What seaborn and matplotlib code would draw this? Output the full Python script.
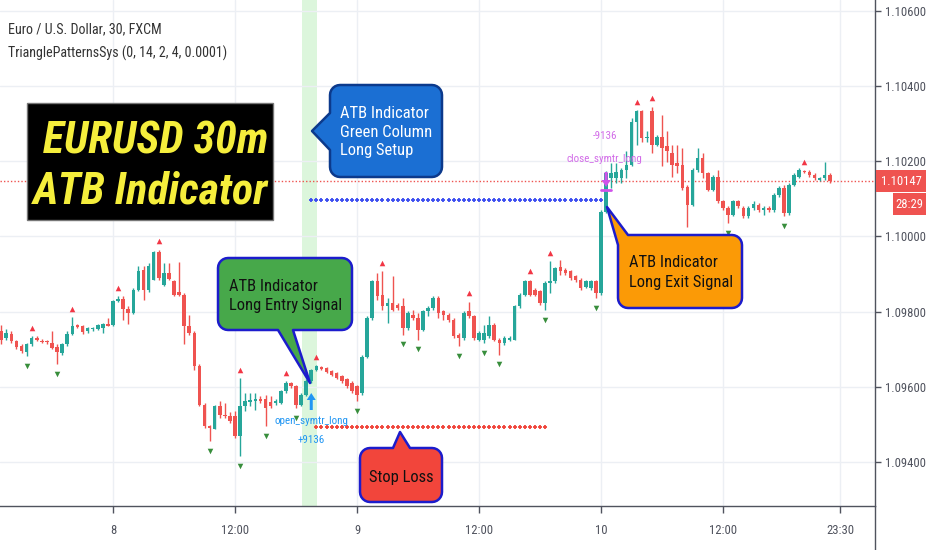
import numpy as np
import pandas as pd
import seaborn as sns
import matplotlib.pyplot as plt
from matplotlib import font_manager as fm
from matplotlib.patches import Polygon, Rectangle, FancyArrow
from matplotlib.transforms import IdentityTransform

# EURUSD 30m bars, bar index counted from 8 Jan 00:00
bars = list(range(-22, 142))
open_ = [1.09748, 1.09730, 1.09742, 1.09722, 1.09708, 1.09692, 1.09713, 1.09730, 1.09723, 1.09722,
         1.09717, 1.09706, 1.09691, 1.09713, 1.09742, 1.09764, 1.09763, 1.09748, 1.09753, 1.09754,
         1.09757, 1.09768, 1.09766, 1.09828, 1.09834, 1.09808, 1.09797, 1.09857, 1.09910, 1.09859,
         1.09885, 1.09958, 1.09872, 1.09903, 1.09881, 1.09852, 1.09845, 1.09761, 1.09744, 1.09655,
         1.09553, 1.09496, 1.09489, 1.09549, 1.09527, 1.09522, 1.09522, 1.09469, 1.09549, 1.09560,
         1.09562, 1.09568, 1.09567, 1.09560, 1.09558, 1.09558, 1.09589, 1.09611, 1.09602, 1.09553,
         1.09580, 1.09615, 1.09644, 1.09653, 1.09650, 1.09642, 1.09637, 1.09628, 1.09620, 1.09611,
         1.09602, 1.09584, 1.09681, 1.09783, 1.09881, 1.09845, 1.09814, 1.09823, 1.09819, 1.09814,
         1.09757, 1.09792, 1.09783, 1.09752, 1.09801, 1.09810, 1.09836, 1.09801, 1.09792, 1.09779,
         1.09739, 1.09730, 1.09801, 1.09788, 1.09726, 1.09726, 1.09735, 1.09765, 1.09726, 1.09717,
         1.09726, 1.09726, 1.09814, 1.09845, 1.09881, 1.09858, 1.09854, 1.09823, 1.09876, 1.09881,
         1.09920, 1.09911, 1.09907, 1.09894, 1.09885, 1.09867, 1.09863, 1.09881, 1.09850, 1.10066,
         1.10155, 1.10155, 1.10155, 1.10177, 1.10190, 1.10305, 1.10332, 1.10261, 1.10332, 1.10243,
         1.10265, 1.10239, 1.10221, 1.10195, 1.10190, 1.10132, 1.10084, 1.10177, 1.10208, 1.10168,
         1.10124, 1.10159, 1.10093, 1.10075, 1.10057, 1.10093, 1.10075, 1.10053, 1.10075, 1.10084,
         1.10071, 1.10075, 1.10071, 1.10111, 1.10128, 1.10062, 1.10137, 1.10159, 1.10174, 1.10172,
         1.10164, 1.10150, 1.10155, 1.10164]
high = [1.09766, 1.09753, 1.09748, 1.09726, 1.09713, 1.09717, 1.09736, 1.09735, 1.09728, 1.09726,
        1.09748, 1.09713, 1.09717, 1.09748, 1.09786, 1.09768, 1.09766, 1.09760, 1.09760, 1.09768,
        1.09770, 1.09783, 1.09830, 1.09841, 1.09841, 1.09814, 1.09863, 1.09921, 1.09921, 1.09929,
        1.09960, 1.09965, 1.09929, 1.09929, 1.09885, 1.09931, 1.09850, 1.09792, 1.09748, 1.09660,
        1.09558, 1.09500, 1.09553, 1.09562, 1.09558, 1.09533, 1.09536, 1.09624, 1.09584, 1.09584,
        1.09584, 1.09576, 1.09580, 1.09576, 1.09567, 1.09593, 1.09615, 1.09613, 1.09606, 1.09584,
        1.09622, 1.09648, 1.09659, 1.09657, 1.09653, 1.09644, 1.09639, 1.09632, 1.09624, 1.09615,
        1.09606, 1.09686, 1.09788, 1.09885, 1.09903, 1.09907, 1.09836, 1.09894, 1.09823, 1.09836,
        1.09801, 1.09805, 1.09797, 1.09805, 1.09814, 1.09841, 1.09841, 1.09805, 1.09797, 1.09783,
        1.09743, 1.09801, 1.09827, 1.09792, 1.09748, 1.09765, 1.09788, 1.09770, 1.09730, 1.09735,
        1.09735, 1.09819, 1.09850, 1.09885, 1.09885, 1.09863, 1.09858, 1.09881, 1.09934, 1.09920,
        1.09938, 1.09915, 1.09911, 1.09898, 1.09889, 1.09885, 1.09885, 1.09885, 1.10071, 1.10174,
        1.10195, 1.10195, 1.10181, 1.10226, 1.10314, 1.10336, 1.10336, 1.10279, 1.10345, 1.10270,
        1.10323, 1.10279, 1.10243, 1.10243, 1.10234, 1.10137, 1.10181, 1.10234, 1.10221, 1.10172,
        1.10164, 1.10177, 1.10097, 1.10080, 1.10097, 1.10097, 1.10080, 1.10080, 1.10093, 1.10088,
        1.10080, 1.10080, 1.10115, 1.10133, 1.10137, 1.10142, 1.10168, 1.10181, 1.10177, 1.10177,
        1.10168, 1.10159, 1.10199, 1.10168]
low = [1.09713, 1.09726, 1.09717, 1.09701, 1.09691, 1.09683, 1.09708, 1.09722, 1.09717, 1.09715,
       1.09701, 1.09660, 1.09686, 1.09708, 1.09739, 1.09757, 1.09742, 1.09744, 1.09750, 1.09751,
       1.09744, 1.09761, 1.09763, 1.09825, 1.09779, 1.09768, 1.09795, 1.09854, 1.09832, 1.09852,
       1.09883, 1.09885, 1.09868, 1.09883, 1.09843, 1.09841, 1.09713, 1.09739, 1.09646, 1.09549,
       1.09491, 1.09456, 1.09489, 1.09518, 1.09518, 1.09505, 1.09465, 1.09416, 1.09536, 1.09549,
       1.09540, 1.09558, 1.09496, 1.09545, 1.09553, 1.09556, 1.09584, 1.09598, 1.09545, 1.09549,
       1.09576, 1.09611, 1.09642, 1.09644, 1.09637, 1.09628, 1.09622, 1.09611, 1.09597, 1.09584,
       1.09562, 1.09580, 1.09677, 1.09779, 1.09832, 1.09805, 1.09770, 1.09801, 1.09805, 1.09739,
       1.09752, 1.09779, 1.09726, 1.09748, 1.09788, 1.09805, 1.09783, 1.09779, 1.09774, 1.09730,
       1.09708, 1.09726, 1.09783, 1.09726, 1.09721, 1.09717, 1.09730, 1.09721, 1.09686, 1.09712,
       1.09721, 1.09724, 1.09810, 1.09841, 1.09841, 1.09841, 1.09819, 1.09805, 1.09850, 1.09876,
       1.09898, 1.09898, 1.09885, 1.09880, 1.09858, 1.09863, 1.09858, 1.09836, 1.09845, 1.10062,
       1.10128, 1.10142, 1.10142, 1.10155, 1.10186, 1.10243, 1.10252, 1.10252, 1.10221, 1.10239,
       1.10186, 1.10199, 1.10159, 1.10168, 1.10124, 1.10026, 1.10080, 1.10172, 1.10155, 1.10120,
       1.10120, 1.10088, 1.10071, 1.10035, 1.10053, 1.10075, 1.10049, 1.10049, 1.10071, 1.10066,
       1.10057, 1.10066, 1.10066, 1.10106, 1.10053, 1.10057, 1.10133, 1.10155, 1.10168, 1.10159,
       1.10150, 1.10146, 1.10150, 1.10142]
close = [1.09726, 1.09744, 1.09722, 1.09706, 1.09695, 1.09713, 1.09730, 1.09726, 1.09720, 1.09719,
         1.09704, 1.09692, 1.09713, 1.09742, 1.09763, 1.09760, 1.09745, 1.09756, 1.09757, 1.09766,
         1.09768, 1.09763, 1.09828, 1.09835, 1.09806, 1.09797, 1.09857, 1.09907, 1.09859, 1.09921,
         1.09958, 1.09890, 1.09903, 1.09887, 1.09845, 1.09845, 1.09761, 1.09744, 1.09655, 1.09553,
         1.09496, 1.09490, 1.09549, 1.09527, 1.09522, 1.09509, 1.09469, 1.09549, 1.09562, 1.09565,
         1.09567, 1.09562, 1.09545, 1.09549, 1.09562, 1.09589, 1.09611, 1.09602, 1.09553, 1.09580,
         1.09617, 1.09644, 1.09655, 1.09648, 1.09639, 1.09632, 1.09624, 1.09615, 1.09602, 1.09589,
         1.09580, 1.09681, 1.09783, 1.09881, 1.09841, 1.09814, 1.09823, 1.09805, 1.09810, 1.09757,
         1.09797, 1.09783, 1.09752, 1.09801, 1.09810, 1.09836, 1.09797, 1.09792, 1.09779, 1.09735,
         1.09730, 1.09797, 1.09788, 1.09730, 1.09743, 1.09743, 1.09765, 1.09726, 1.09717, 1.09730,
         1.09730, 1.09814, 1.09845, 1.09881, 1.09845, 1.09845, 1.09823, 1.09876, 1.09881, 1.09916,
         1.09907, 1.09903, 1.09889, 1.09885, 1.09863, 1.09881, 1.09881, 1.09850, 1.10066, 1.10168,
         1.10168, 1.10172, 1.10177, 1.10190, 1.10305, 1.10332, 1.10261, 1.10265, 1.10243, 1.10265,
         1.10234, 1.10226, 1.10190, 1.10186, 1.10128, 1.10084, 1.10177, 1.10208, 1.10168, 1.10124,
         1.10159, 1.10093, 1.10075, 1.10057, 1.10093, 1.10080, 1.10053, 1.10075, 1.10086, 1.10071,
         1.10075, 1.10071, 1.10111, 1.10128, 1.10062, 1.10137, 1.10164, 1.10177, 1.10171, 1.10164,
         1.10155, 1.10155, 1.10164, 1.10147]

up_signals = [-16, -8, 1, 9, 25, 34, 40, 53, 70, 82, 86, 103, 106, 136]
down_signals = [-17, -11, 19, 25, 30, 36, 48, 57, 60, 68, 73, 76, 85, 95, 121, 132]

tp_level, tp_from, tp_to = 1.10097, 39, 96
sl_level, sl_from, sl_to = 1.09495, 40, 85
entry_bar, exit_bar = 39, 97

x_ticks = [0, 24, 48, 72, 96, 120, 143]
x_labels = ["8", "12:00", "9", "12:00", "10", "12:00", "23:30"]
y_ticks = [1.094, 1.096, 1.098, 1.100, 1.102, 1.104, 1.106]

df = pd.DataFrame({"bar": bars, "open": open_, "high": high, "low": low, "close": close})
df["color"] = np.where(df["close"] >= df["open"], "#26a69a", "#ef5350")

sns.set_theme(style="white")

# pick a narrow face if one is installed, else Roboto (narrower than DejaVu)
fonts = fm.fontManager.ttflist
names = {f.name for f in fonts}
narrow = [n for n in ["Liberation Sans Narrow", "Roboto Condensed", "Noto Sans Condensed",
                      "Open Sans Condensed", "DejaVu Sans Condensed"] if n in names]
stretch = "normal"
if narrow:
    face = narrow[0]
elif any(f.name == "DejaVu Sans" and f.stretch == "condensed" for f in fonts):
    face, stretch = "DejaVu Sans", "condensed"
elif "Roboto" in names:
    face = "Roboto"
else:
    face = "DejaVu Sans"
plt.rcParams["font.family"] = [face, "DejaVu Sans"]
plt.rcParams["font.stretch"] = stretch

W, H = 932, 550
fig = plt.figure(figsize=(W / 100, H / 100), dpi=100)
renderer = fig.canvas.get_renderer()
ax = fig.add_axes([0, 44 / H, 875 / W, 506 / H])
ax.set_xlim(-22.23, 149.9)
ax.set_ylim(1.09284, 1.10628)

ID = IdentityTransform()


def fitted_size(s, width, **kw):
    t = fig.text(0, 0, s, fontsize=10, transform=ID, **kw)
    w = t.get_window_extent(renderer).width
    t.remove()
    return 10 * width / w


def T(x, y, s, **kw):
    return fig.text(x, H - y, s, transform=ID, **kw)


tick_fs = fitted_size("1.10600", 40)
box_fs = fitted_size("ATB Indicator", 88)
tag_fs = fitted_size("open_symtr_long", 73)
leg_fs = fitted_size("Euro / U.S. Dollar, 30, FXCM", 154)
title_kw = dict(fontweight="bold", fontstyle="italic")
title_fs = fitted_size("ATB Indicator", 235, **title_kw)

# green setup column
ax.axvspan(37.2, 40.1, color="#dcf6dc", zorder=0, lw=0)

# candles
ax.vlines(df["bar"], df["low"], df["high"], colors=df["color"], lw=1, zorder=3)
body = (df["close"] - df["open"]).abs().clip(lower=0.00003)
ax.bar(df["bar"], body, bottom=df[["open", "close"]].min(axis=1), width=0.7,
       color=df["color"], lw=0, zorder=4)

# triangle signals
sig = df.set_index("bar")
sns.scatterplot(x=up_signals, y=sig.loc[up_signals, "high"].values + 0.00022, marker="^",
                color="#f23645", s=16, linewidth=0, ax=ax, zorder=5)
sns.scatterplot(x=down_signals, y=sig.loc[down_signals, "low"].values - 0.00026, marker="v",
                color="#388e3c", s=16, linewidth=0, ax=ax, zorder=5)

# take profit / stop loss crosses
tp_x = np.arange(tp_from, tp_to + 1)
sns.scatterplot(x=tp_x, y=[tp_level] * len(tp_x), marker="+", color="#3d4ef0", s=12,
                linewidth=1.3, ax=ax, zorder=5)
sl_x = np.arange(sl_from, sl_to + 1)
sns.scatterplot(x=sl_x, y=[sl_level] * len(sl_x), marker="+", color="#f0443a", s=12,
                linewidth=1.3, ax=ax, zorder=5)

# last price line
last = close[-1]
ax.axhline(last, color="#ef5350", lw=1, ls=(0, (1, 1.5)), zorder=2)

ax.set_xlabel("")
ax.set_ylabel("")
ax.set_xticks(x_ticks)
ax.set_xticklabels(x_labels)
ax.set_yticks(y_ticks)
ax.set_yticklabels([f"{v:.5f}" for v in y_ticks])
ax.yaxis.tick_right()
ax.tick_params(axis="y", length=4, width=1, color="#50535e", labelcolor="#50535e",
               labelsize=tick_fs, pad=3, right=True, left=False)
ax.tick_params(axis="x", length=5, width=1, color="#50535e", labelcolor="#50535e",
               labelsize=tick_fs, pad=8, bottom=True)
ax.grid(True, color="#eceff4", lw=1)
ax.set_axisbelow(True)
for s in ["left", "top"]:
    ax.spines[s].set_visible(False)
for s in ["right", "bottom"]:
    ax.spines[s].set_color("#50535e")
    ax.spines[s].set_linewidth(1)
fig.add_artist(plt.Line2D([875 / W, 875 / W], [0, 44 / H], color="#50535e", lw=1,
                          transform=fig.transFigure))


def callout(x0, y0, x1, y1, r, side, b0, b1, tip, face, edge):
    def arc(cx, cy, a0, a1):
        a = np.radians(np.linspace(a0, a1, 7))
        return list(zip(cx + r * np.cos(a), cy + r * np.sin(a)))
    pts = []
    if side == "corner":
        pts += [(x0, y0 + r), tip, (b1, y0)]
    else:
        pts += arc(x0 + r, y0 + r, 180, 270)
    if side == "top":
        pts += [(b0, y0), tip, (b1, y0)]
    pts += arc(x1 - r, y0 + r, 270, 360)
    pts += arc(x1 - r, y1 - r, 0, 90)
    if side == "bottom":
        pts += [(b1, y1), tip, (b0, y1)]
    pts += arc(x0 + r, y1 - r, 90, 180)
    if side == "left":
        pts += [(x0, b1), tip, (x0, b0)]
    pts = [(x, H - y) for x, y in pts]
    fig.add_artist(Polygon(pts, closed=True, transform=ID, facecolor=face,
                           edgecolor=edge, lw=1.8, joinstyle="round"))


# title block
fig.add_artist(Rectangle((27, H - 220), 246, 117, transform=ID, facecolor="black",
                         edgecolor="#777777", lw=1))
T(268, 153, "EURUSD 30m", ha="right", va="baseline", fontsize=title_fs, color="#f5ee3c",
  **title_kw)
T(268, 203, "ATB Indicator", ha="right", va="baseline", fontsize=title_fs, color="#f5ee3c",
  **title_kw)

# legend text
T(8, 33, "Euro / U.S. Dollar, 30, FXCM", fontsize=leg_fs, color="#333333", va="baseline")
T(8, 58, "TrianglePatternsSys (0, 14, 2, 4, 0.0001)", fontsize=leg_fs, color="#333333",
  va="baseline")

# callouts
callout(330, 85, 442, 177, 10, "left", 113, 150, (312, 131), "#1b6fd3", "#0c3a8c")
for yy, s in [(118, "ATB Indicator"), (137, "Green Column"), (155, "Long Setup")]:
    T(340, yy, s, fontsize=box_fs, color="white", va="baseline")

callout(218, 258, 352, 330, 10, "bottom", 278, 293, (310, 383), "#47a84a", "#1c1ccc")
for yy, s in [(291, "ATB Indicator"), (310, "Long Entry Signal")]:
    T(229, yy, s, fontsize=box_fs, color="#111111", va="baseline")

callout(618, 235, 742, 308, 10, "corner", 618, 628, (607, 207), "#fb9a06", "#1c1ccc")
for yy, s in [(267, "ATB Indicator"), (287, "Long Exit Signal")]:
    T(629, yy, s, fontsize=box_fs, color="#111111", va="baseline")

callout(360, 448, 442, 502, 10, "top", 393, 410, (400, 432), "#f2453b", "#1c1ccc")
T(401, 482, "Stop Loss", fontsize=box_fs, color="#111111", va="baseline", ha="center")

# entry / exit markers
ex = ax.transData.transform((entry_bar, 0))[0]
fig.add_artist(FancyArrow(ex, H - 410, 0, 17, width=3, head_width=9, head_length=7,
                          length_includes_head=True, transform=ID, color="#2196f3", lw=0))
T(ex, 424, "open_symtr_long", fontsize=tag_fs, color="#2196f3", ha="center", va="baseline")
T(ex, 443, "+9136", fontsize=tag_fs, color="#2196f3", ha="center", va="baseline")

xx = ax.transData.transform((exit_bar, 0))[0]
fig.add_artist(FancyArrow(xx, H - 172, 0, -15, width=3, head_width=9, head_length=7,
                          length_includes_head=True, transform=ID, color="#d052ea", lw=0))
fig.add_artist(plt.Line2D([xx - 5, xx + 5], [H - 190, H - 190], color="#d052ea", lw=2,
                          transform=ID))
T(xx - 1, 139, "-9136", fontsize=tag_fs, color="#d26ce8", ha="center", va="baseline")
T(xx - 2, 162, "close_symtr_long", fontsize=tag_fs, color="#d26ce8", ha="center",
  va="baseline")

# last price labels on the scale
py = ax.transData.transform((0, last))[1]
fig.add_artist(Rectangle((876, py - 11), 50, 22, transform=ID, facecolor="#ef5350", lw=0))
fig.text(901, py, f"{last:.5f}", transform=ID, ha="center", va="center", fontsize=tick_fs,
         color="white")
fig.add_artist(Rectangle((893, py - 34), 33, 22, transform=ID, facecolor="#ef5350", lw=0))
fig.text(909.5, py - 23, "28:29", transform=ID, ha="center", va="center", fontsize=tick_fs,
         color="white")

fig.savefig("out.png", dpi=100)
